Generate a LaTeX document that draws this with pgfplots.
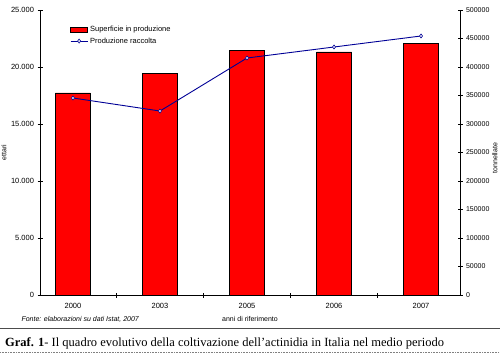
\documentclass[border=0pt]{standalone}
\usepackage{fontspec}
\setmainfont{Liberation Sans}
\newfontfamily\capserif{Liberation Serif}
\usepackage{pgfplots}
\pgfplotsset{compat=1.18}
\pgfplotsset{barleg/.style={legend image code/.code={\draw[##1] (0bp,-2.5bp) rectangle (17bp,2.5bp);}}}
\definecolor{lineblue}{RGB}{0,0,150}
\begin{document}
\begin{tikzpicture}[x=1bp,y=1bp]
\useasboundingbox (0,0) rectangle (500,354);
\begin{axis}[
  scale only axis, width=420bp, height=285bp,
  at={(40bp,59bp)}, anchor=south west,
  xmin=-0.379, xmax=4.448, ymin=0, ymax=25000,
  axis y line*=left, axis x line*=bottom,
  axis line style={-, black, line width=0.8bp},
  every tick/.style={black, line width=0.8bp},
  tick align=center, major tick length=5bp, minor tick length=5bp,
  ytick={0,5000,...,25000},
  scaled y ticks=false,
  /pgf/number format/assume math mode=true,
  yticklabel style={/pgf/number format/fixed, /pgf/number format/1000 sep={.}, font=\fontsize{7.5bp}{9bp}\selectfont},
  xtick={0,1,2,3,4},
  xticklabels={2000,2003,2005,2006,2007},
  major x tick style={draw=none},
  minor xtick={0.5,1.5,2.5,3.5},
  xticklabel style={font=\fontsize{7.5bp}{9bp}\selectfont, yshift=-2bp},
  ylabel={ettari},
  ylabel style={at={(axis description cs:-0.086,0.5)}, anchor=center, font=\fontsize{7bp}{8bp}\selectfont},
  xlabel={anni di riferimento},
  xlabel style={at={(axis description cs:0.5,-0.084)}, anchor=center, font=\fontsize{7bp}{8bp}\selectfont},
  clip=false,
]
\addplot[ybar, bar width=35bp, bar shift=0pt, fill=red, draw=black, line width=0.8bp]
  coordinates {(0,17720) (1,19470) (2,21490) (3,21320) (4,22100)};
\end{axis}
\begin{axis}[
  scale only axis, width=420bp, height=285bp,
  at={(40bp,59bp)}, anchor=south west,
  xmin=-0.379, xmax=4.448, ymin=0, ymax=500000,
  axis y line*=right, axis x line=none,
  axis line style={-, black, line width=0.8bp},
  every tick/.style={black, line width=0.8bp},
  tick align=center, major tick length=5bp,
  ytick={0,50000,...,500000},
  scaled y ticks=false,
  /pgf/number format/assume math mode=true,
  yticklabel style={/pgf/number format/fixed, /pgf/number format/precision=0, /pgf/number format/1000 sep={}, font=\fontsize{7bp}{9bp}\selectfont},
  ylabel={tonnellate},
  ylabel style={at={(axis description cs:1.083,0.48)}, anchor=center, font=\fontsize{7bp}{8bp}\selectfont},
  legend style={draw=none, fill=none, at={(axis description cs:0.0714,0.951)}, anchor=north west,
    font=\fontsize{7.5bp}{9bp}\selectfont, row sep=0.5bp, inner sep=0pt},
  legend cell align=left,
  clip=false,
]
\addlegendimage{fill=red, draw=black, line width=0.8bp, barleg}
\addlegendentry{Superficie in produzione}
\addplot[color=lineblue, line width=0.9bp, mark=diamond*, mark size=2bp, mark options={fill=white, line width=0.6bp}]
  coordinates {(0,345600) (1,322800) (2,415800) (3,435100) (4,454400)};
\addlegendentry{Produzione raccolta}
\end{axis}
\node[anchor=west, font=\fontsize{7bp}{8bp}\selectfont\itshape] at (18,35) {Fonte: elaborazioni su dati Istat, 2007};
\draw[black!70, line width=0.8bp] (0,26) -- (500,26);
\draw[black!50, line width=0.6bp, densely dotted] (0,2) -- (500,2);
\node[anchor=base west, inner sep=0pt, font=\capserif\fontsize{12.5bp}{14bp}\selectfont] at (5,8)
  {\textbf{Graf. 1}- Il quadro evolutivo della coltivazione dell’actinidia in Italia nel medio periodo};
\end{tikzpicture}
\end{document}
